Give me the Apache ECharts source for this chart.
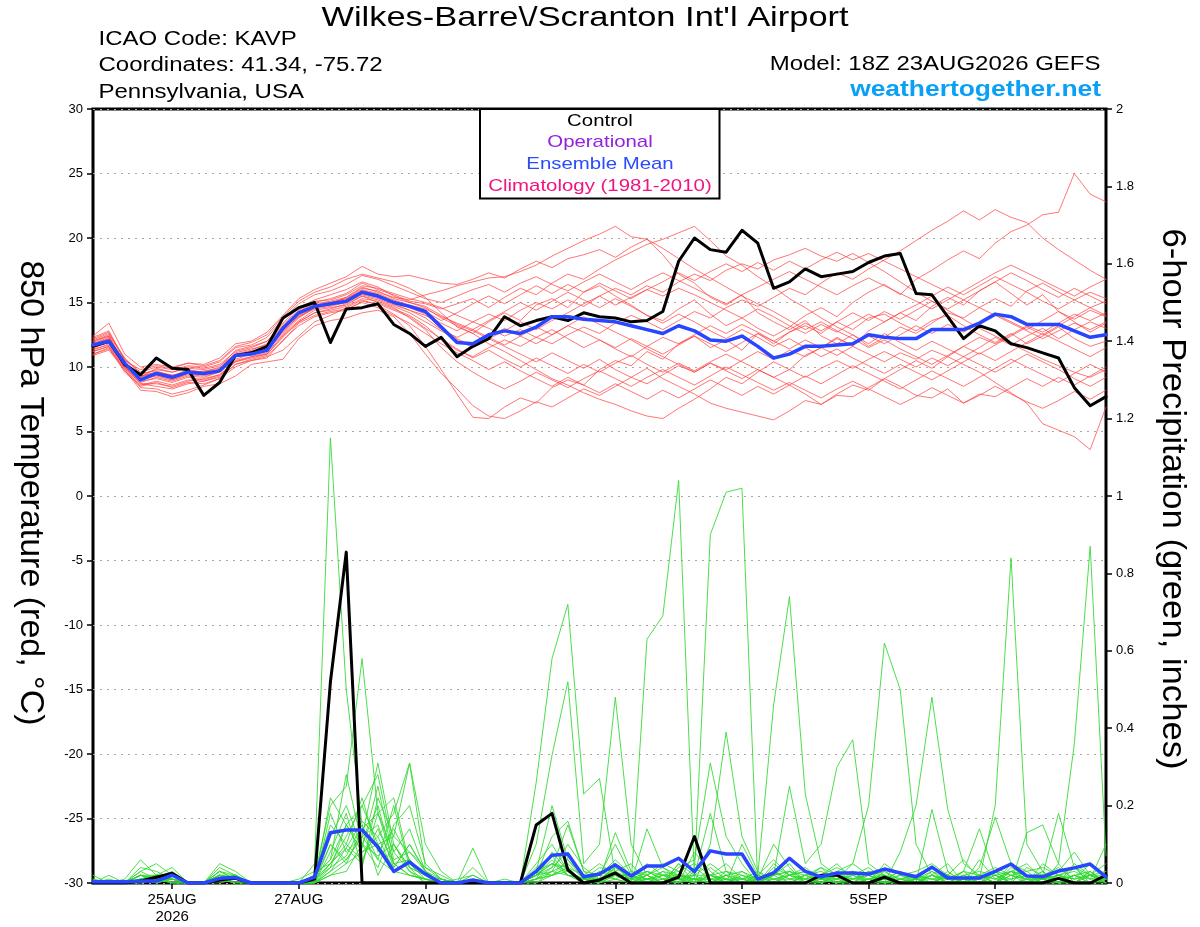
<!DOCTYPE html>
<html>
<head>
<meta charset="utf-8">
<script src="https://cdn.jsdelivr.net/npm/echarts@6.0.0/dist/echarts.min.js"></script>
<style>
html,body{margin:0;padding:0;background:#fff;}
#chart{width:1200px;height:927px;}
</style>
</head>
<body>
<div id="chart"></div>
<script>
// Forecast hours (6-hourly, 18Z 23AUG2026 run)
const forecastHours = [0,6,12,18,24,30,36,42,48,54,60,66,72,78,84,90,96,102,108,114,120,126,132,138,144,150,156,162,168,174,180,186,192,198,204,210,216,222,228,234,240,246,252,258,264,270,276,282,288,294,300,306,312,318,324,330,336,342,348,354,360,366,372,378,384];
const tickIndex = [5,13,21,33,41,49,57];
const tickText = ['25AUG\n2026','27AUG','29AUG','1SEP','3SEP','5SEP','7SEP'];

// 850 hPa temperature (deg C)
const controlTemp = [11.6,12.0,10.2,9.4,10.7,9.9,9.8,7.8,8.8,10.9,11.1,11.6,13.8,14.6,15.0,11.9,14.5,14.6,14.9,13.3,12.6,11.6,12.3,10.8,11.6,12.2,13.9,13.2,13.6,13.9,13.6,14.2,13.9,13.8,13.5,13.6,14.3,18.2,20.0,19.1,18.9,20.6,19.6,16.1,16.6,17.6,17.0,17.2,17.4,18.1,18.6,18.8,15.7,15.6,13.9,12.2,13.2,12.8,11.8,11.5,11.1,10.7,8.4,7.0,7.7];
const meanTemp = [11.7,12.0,10.3,9.0,9.5,9.2,9.6,9.5,9.7,10.9,11.0,11.3,13.0,14.2,14.7,14.9,15.1,15.8,15.5,15.0,14.7,14.3,13.1,11.9,11.8,12.5,12.8,12.6,13.1,13.9,13.9,13.7,13.6,13.5,13.2,12.9,12.6,13.2,12.8,12.1,12.0,12.4,11.6,10.7,11.0,11.6,11.6,11.7,11.8,12.5,12.3,12.2,12.2,12.9,12.9,12.9,13.4,14.1,13.9,13.3,13.3,13.3,12.8,12.3,12.5];

const tempM01 = [12.0,12.5,10.6,9.4,9.8,9.6,10.0,9.9,10.2,11.2,11.5,12.0,13.4,14.6,15.2,15.6,16.0,16.6,16.2,15.5,15.0,14.6, 13.8,13.2,12.6,13.5,14.2,13.6,14.8,15.3,14.6,15.8,16.3,15.5,14.8,14.0,13.6,14.5,15.2,14.1,13.2,13.8,13.0, 12.4,13.1,14.0,14.6,13.9,15.0,15.8,16.4,15.6,16.8,17.5,18.3,19.0,18.4,19.6,20.5,21.0,21.8,22.0,25.0,23.4,22.8];
const tempM02 = [11.5,11.9,10.0,8.8,9.2,8.9,9.3,9.2,9.6,10.6,11.0,11.3,12.6,13.8,14.6,14.9,15.4,16.2,15.8,15.4,15.2,15.6, 15.9,16.3,16.6,16.9,17.0,17.4,17.9,18.6,19.2,19.8,20.3,20.9,20.1,19.9,18.7,17.2,16.5,15.4,14.8,15.6,14.2, 13.5,12.9,13.6,12.4,11.8,12.5,11.6,12.3,13.1,12.6,13.4,14.2,13.8,14.6,15.3,14.7,15.9,16.5,15.8,15.2,14.6,15.1];
const tempM03 = [11.0,11.4,9.9,8.4,8.3,7.9,8.2,8.6,9.1,10.0,10.5,10.8,11.3,12.4,13.5,14.0,14.6,15.2,14.8,14.1,13.2,11.6, 9.8,7.9,6.1,6.0,6.9,7.6,7.2,8.4,9.0,8.6,9.8,10.5,10.1,11.2,10.6,11.8,12.4,11.5,12.1,11.3,12.6, 11.8,12.7,13.2,12.6,13.5,12.9,13.8,14.1,13.4,12.8,13.6,14.0,13.2,12.5,11.9,12.6,11.8,12.4,13.1,12.2,11.6,12.0];
const tempM04 = [12.3,12.8,10.5,9.8,10.1,9.9,10.3,10.1,10.5,11.6,11.9,12.5,13.9,15.1,15.8,16.2,16.8,17.2,16.9,16.6,16.1,15.4, 14.2,13.1,12.6,11.8,11.2,10.5,9.8,9.1,8.6,8.0,7.5,7.1,6.6,6.2,6.0,6.8,7.5,8.3,9.2,8.7,9.6, 10.4,9.8,10.9,11.5,12.3,11.6,12.8,13.5,14.2,13.6,14.7,15.4,14.8,15.9,16.6,15.7,14.8,15.6,14.3,13.5,12.7,13.4];
const tempM05 = [11.8,12.2,10.4,9.3,9.6,9.4,9.5,9.7,9.9,11.1,11.4,11.7,13.1,14.3,15.0,15.3,15.7,16.5,16.0,15.6,15.1,14.9, 14.5,14.9,15.3,14.6,15.4,16.1,15.6,16.5,17.2,16.8,17.6,18.3,18.9,19.5,19.9,20.4,20.9,19.8,18.6,17.9,17.0, 16.2,15.3,14.6,13.8,13.1,12.5,11.8,12.6,11.9,11.3,12.0,11.4,10.8,11.5,12.3,11.7,12.4,13.0,12.2,12.9,13.5,13.0];
const tempM06 = [11.2,11.6,9.7,8.6,8.9,8.6,9.0,8.9,9.3,10.4,10.7,11.0,12.3,13.5,14.2,14.5,14.9,15.5,15.2,14.7,14.2,13.5, 12.8,12.1,11.5,12.2,11.6,11.0,10.4,11.1,10.5,9.9,10.6,9.8,9.2,9.9,9.1,8.5,7.9,7.2,6.8,6.5,6.2, 5.9,6.6,7.4,7.1,7.9,8.6,8.2,9.1,9.8,10.5,9.9,10.8,11.6,12.3,11.8,12.5,13.2,12.7,13.4,14.1,13.6,14.2];
const tempM07 = [11.9,12.4,10.1,9.0,9.4,9.0,9.4,9.3,9.6,10.8,11.0,11.4,12.8,13.9,14.5,14.7,15.0,15.6,15.3,14.8,14.4,14.0, 13.4,12.8,13.5,14.1,13.6,14.4,15.0,14.5,15.2,14.7,15.5,16.1,15.6,16.3,15.8,16.6,17.2,16.7,17.5,18.0,17.6, 18.3,18.7,19.2,18.6,18.2,18.8,18.1,17.4,16.6,15.8,15.1,14.4,13.7,13.0,12.4,11.8,11.2,10.6,10.1,9.6,9.2,9.8];
const tempM08 = [11.4,11.7,10.0,8.9,9.1,8.8,9.2,9.0,9.4,10.5,10.8,11.1,12.5,13.6,14.4,14.6,14.8,15.5,15.0,14.5,14.0,13.2, 12.1,11.3,10.8,11.5,12.1,11.6,12.3,12.9,12.2,11.5,12.1,11.4,10.8,11.6,12.3,11.8,12.5,13.2,12.6,13.3,12.7, 12.0,11.4,12.1,11.5,10.9,11.6,11.0,10.4,11.1,10.6,11.3,10.8,10.2,9.6,8.8,8.0,7.2,5.6,5.1,4.6,3.6,6.9];
const tempM09 = [12.1,12.6,10.7,9.5,9.7,9.3,9.8,9.6,10.0,11.3,11.6,12.0,13.3,14.4,15.1,15.2,15.6,16.3,16.1,15.7,15.3,15.0, 14.6,14.0,13.5,13.0,12.4,12.9,12.3,11.8,12.5,13.1,12.6,13.4,14.0,13.5,12.9,13.6,14.3,13.8,14.6,15.2,14.7, 15.4,16.1,15.6,16.5,17.3,16.8,17.6,18.3,19.0,19.8,20.6,21.3,22.1,21.4,22.2,21.6,21.2,20.0,19.1,18.3,17.5,16.8];
const tempM10 = [11.6,12.0,10.3,9.2,9.6,9.3,9.7,9.6,9.8,10.9,11.2,11.6,13.0,14.1,14.8,15.0,15.3,16.0,15.7,15.2,14.8,14.5, 13.9,13.4,12.9,13.6,14.3,15.0,14.4,15.1,15.8,15.2,14.6,15.3,14.7,14.0,13.4,14.1,13.5,12.8,12.2,12.9,12.3, 11.6,12.2,11.5,10.8,11.4,10.7,10.1,9.5,10.2,9.6,9.0,9.7,10.4,11.1,10.5,11.2,11.9,12.6,12.0,11.4,10.8,11.5];
const tempM11 = [10.9,11.3,9.8,8.2,8.1,7.7,8.0,8.5,8.7,9.3,10.2,10.4,10.6,12.2,13.2,13.6,13.8,14.2,14.4,13.9,12.6,11.0, 9.5,8.3,7.0,6.2,6.0,6.6,7.3,6.9,7.6,8.3,7.8,8.5,9.2,8.7,9.4,10.1,9.6,10.3,9.8,10.5,11.2, 10.6,11.3,10.8,11.5,12.2,11.7,12.4,11.8,12.5,13.2,12.6,13.3,12.7,13.4,14.1,13.5,12.9,13.6,14.3,13.7,14.4,13.9];
const tempM12 = [12.4,13.4,11.0,10.0,10.2,10.0,10.3,10.2,10.7,11.8,12.0,12.7,14.0,15.3,16.0,16.5,17.0,17.8,17.2,17.0,17.1,16.8, 16.5,16.4,16.8,17.3,16.9,17.6,18.2,17.7,18.4,18.7,19.1,18.5,19.3,19.9,19.2,18.4,17.6,16.9,16.2,15.5,14.9, 14.3,13.6,12.9,13.5,12.8,12.2,11.5,12.1,11.4,10.8,10.2,10.9,11.6,11.0,11.7,12.4,13.1,12.5,13.2,13.9,14.6,14.0];
const tempM13 = [11.3,11.8,10.0,8.7,8.5,8.3,8.7,8.9,9.2,10.2,10.6,10.9,12.0,13.4,14.0,14.3,14.5,15.0,14.6,14.0,13.4,12.6, 11.8,11.1,10.5,9.8,10.4,9.7,9.1,8.5,9.2,8.6,8.0,8.7,8.1,7.5,8.2,7.6,8.3,9.0,8.4,7.8,8.5, 7.9,8.6,7.9,7.1,7.8,7.7,8.4,9.1,8.5,7.8,7.6,8.3,7.2,7.9,7.7,8.4,9.1,8.5,9.2,8.6,9.3,10.0];
const tempM14 = [11.8,12.3,10.4,9.2,9.9,9.6,9.9,9.8,10.1,11.0,11.3,11.8,13.2,14.2,14.9,15.1,15.4,16.1,15.9,15.3,15.0,14.7, 14.0,13.3,12.8,12.2,12.8,13.5,12.9,13.6,14.2,14.9,15.5,14.8,15.4,16.0,15.5,16.1,15.6,15.0,14.4,13.8,14.5, 13.9,13.2,12.6,13.3,12.7,13.4,14.1,13.5,14.2,14.8,15.5,16.2,15.6,16.3,17.0,16.4,15.8,15.1,14.5,15.2,15.8,15.3];
const tempM15 = [11.0,11.5,9.6,8.5,8.8,8.4,8.8,8.7,9.1,10.2,10.5,10.7,12.1,13.2,13.9,14.2,14.4,15.1,14.9,14.4,13.9,13.0, 12.2,11.4,10.7,11.3,10.6,10.0,10.7,10.1,9.5,10.2,9.6,10.3,10.9,10.2,9.6,10.3,9.7,10.4,11.0,10.4,9.8, 9.2,9.8,9.2,9.9,10.5,9.9,10.6,11.2,10.6,10.0,10.7,10.1,10.8,10.2,9.6,10.3,11.0,10.4,9.8,9.1,8.5,9.2];
const tempM16 = [11.5,12.0,10.2,9.0,9.3,9.0,9.5,9.4,9.7,10.8,11.0,11.4,12.7,13.9,14.6,14.8,15.2,15.9,15.6,15.1,14.6,14.1, 13.0,12.2,11.6,12.3,13.0,12.4,11.8,12.5,13.2,12.7,12.1,11.5,12.2,11.6,11.0,11.7,12.4,11.8,11.2,11.9,12.6, 12.0,12.7,13.4,12.8,13.5,14.2,13.6,14.3,13.7,14.4,15.1,14.5,15.2,15.9,16.6,17.3,16.7,16.0,15.4,16.1,15.5,14.9];
const tempM17 = [12.0,12.4,10.3,9.3,9.5,9.1,9.6,9.5,9.8,10.9,11.2,11.5,12.9,14.0,14.6,14.8,15.0,15.7,15.4,14.9,14.4,13.8, 12.9,12.3,12.9,12.3,11.7,12.4,13.1,12.5,13.2,13.9,13.3,12.7,12.1,11.4,10.8,10.2,9.6,10.3,9.7,9.1,9.8, 9.2,8.6,9.3,8.7,9.4,10.1,9.5,8.9,8.3,9.0,9.7,9.1,8.5,9.2,9.9,10.6,10.0,9.4,8.8,9.5,10.2,9.6];
const tempM18 = [12.2,12.7,10.6,9.6,10.0,9.8,10.1,10.0,10.4,11.5,11.7,12.3,13.7,14.9,15.6,15.9,16.4,17.1,16.8,16.3,15.8,15.3, 15.0,15.5,16.0,16.4,15.8,16.5,17.0,16.4,15.9,16.6,17.2,16.6,16.0,16.7,17.3,16.7,16.1,15.5,14.9,15.6,16.2, 16.8,17.4,16.8,16.2,15.6,16.3,16.9,16.3,15.7,15.1,14.5,15.2,15.9,16.6,17.3,17.9,17.3,16.7,16.1,15.5,16.2,16.8];
const tempM19 = [11.2,11.6,9.9,8.7,8.7,8.5,8.9,9.1,9.4,10.4,10.8,11.0,12.4,13.5,14.2,14.4,14.7,15.3,15.1,14.6,13.8,12.9, 11.5,10.4,9.6,8.9,8.3,8.9,9.6,9.0,8.4,9.1,9.7,9.1,8.5,9.2,9.8,9.2,8.6,9.3,10.0,9.4,8.8, 8.2,8.8,8.2,7.6,8.3,8.9,8.3,7.7,7.1,7.7,8.4,7.8,7.2,7.8,8.5,7.9,7.3,6.8,7.4,8.1,7.5,8.2];
const tempM20 = [11.7,12.2,10.2,9.1,9.4,9.2,9.5,9.4,9.8,10.9,11.1,11.5,12.9,14.1,14.8,15.0,15.3,15.9,15.6,15.1,14.7,14.3, 13.6,14.2,14.9,15.5,14.9,15.6,16.3,15.7,16.4,15.8,16.5,15.9,15.3,16.0,16.6,17.3,16.7,17.4,18.0,17.4,18.1, 17.5,18.2,17.6,18.3,18.9,18.3,18.8,18.2,17.6,17.0,16.4,15.8,15.2,14.6,14.0,13.4,12.8,12.2,12.8,13.4,12.9,13.5];

// 6-hour precipitation (inches)
const controlPrecip = [0,0,0,0.005,0.015,0.025,0,0,0.008,0.012,0,0,0, 0,0.01,0.52,0.855,0,0,0,0,0,0,0,0,0, 0,0,0.15,0.18,0.034,0,0.008,0.026,0,0,0,0.015,0.12, 0,0,0,0,0,0,0,0.02,0.02,0,0,0.015,0, 0,0,0,0,0,0,0,0,0,0.012,0,0,0.02];
const meanPrecip = [0.003,0.003,0.003,0.005,0.005,0.02,0,0,0.012,0.014,0,0,0, 0,0.015,0.13,0.137,0.137,0.093,0.03,0.054,0.023,0,0,0.008,0, 0,0,0.03,0.072,0.075,0.016,0.023,0.047,0.018,0.044,0.044,0.064,0.029, 0.083,0.075,0.075,0.01,0.026,0.064,0.03,0.016,0.026,0.026,0.023,0.036,0.026, 0.016,0.041,0.013,0.013,0.013,0.03,0.049,0.018,0.016,0.031,0.039,0.049,0.016];

const precipM01 = [0,0.02,0,0.03,0.05,0.02,0,0,0.03,0.02,0,0,0, 0,0.05,1.15,0.5,0.15,0.02,0.1,0.04,0,0,0,0,0, 0,0,0.02,0.05,0.03,0,0.02,0.1,0.02,0,0,0.05,0, 0.02,0,0,0,0,0,0.02,0.04,0,0,0,0.03,0, 0,0,0,0.02,0,0,0.05,0.03,0,0,0.02,0,0];
const precipM02 = [0,0,0.01,0.06,0.02,0.04,0,0,0.05,0.03,0,0,0, 0,0.02,0.2,0.25,0.58,0.18,0.05,0.02,0.01,0,0,0.02,0, 0,0,0,0.02,0.04,0,0,0.05,0,0.02,0,0,0.01, 0,0.02,0,0,0.03,0,0,0,0.02,0,0,0,0.01, 0,0.02,0,0,0,0.03,0,0,0,0.02,0,0,0.01];
const precipM03 = [0.02,0,0,0.02,0.01,0.03,0,0,0.02,0.01,0,0,0, 0,0.01,0.1,0.06,0.12,0.31,0.1,0.04,0.02,0,0,0,0, 0,0,0.26,0.58,0.72,0.23,0.27,0.02,0,0.63,0.69,1.04,0.01, 0,0.03,0.01,0,0.02,0,0,0.02,0,0,0.01,0,0, 0,0,0.02,0,0,0,0,0.04,0.02,0,0,0.03,0];
const precipM04 = [0,0.01,0,0.04,0.03,0.01,0,0,0.04,0.02,0,0,0, 0,0,0.22,0.15,0.08,0.1,0.12,0.31,0.04,0.01,0,0,0, 0,0,0.1,0.33,0.52,0.05,0.1,0.48,0.1,0.02,0,0.04,0.06, 0.31,0.12,0.05,0,0.02,0.05,0,0,0.02,0,0.03,0,0, 0.01,0,0,0,0.02,0,0.03,0.02,0,0,0,0.02,0];
const precipM05 = [0,0,0,0.01,0.02,0.02,0,0,0.01,0,0,0,0, 0.01,0.03,0.05,0.12,0.2,0.28,0.08,0.14,0.03,0,0,0.09,0, 0,0,0.04,0.07,0.02,0.01,0,0.03,0.05,0,0.01,0,0.03, 0.9,1.01,1.02,0,0.05,0.02,0,0.01,0,0.03,0,0,0.02, 0,0.03,0,0,0,0.02,0,0,0.05,0.02,0,0,0.01];
const precipM06 = [0,0,0,0,0.01,0.01,0,0,0.02,0.01,0,0,0, 0,0.02,0.15,0.1,0.06,0.14,0.05,0.06,0.02,0.01,0,0,0, 0.01,0,0.02,0.12,0.16,0.03,0,0.04,0.01,0.05,0.02,0,0.08, 0.03,0,0.1,0.02,0.46,0.74,0.23,0.05,0.02,0,0.03,0.01,0, 0.02,0,0,0.03,0,0,0.02,0,0.03,0,0.05,0.02,0];
const precipM07 = [0,0,0,0.02,0,0.01,0,0,0.03,0.01,0,0,0, 0,0,0.08,0.18,0.04,0.22,0.12,0.08,0.03,0,0,0,0, 0,0,0.05,0.1,0.03,0,0.03,0.01,0,0.02,0.04,0.02,0, 0.02,0,0.03,0,0.04,0.02,0.03,0,0.01,0.05,0.2,0.62,0.5, 0.1,0.02,0,0.01,0,0.03,0,0.01,0,0.02,0,0.03,0];
const precipM08 = [0,0,0,0.01,0,0.02,0,0,0.01,0.02,0,0,0, 0,0.01,0.04,0.07,0.15,0.06,0.03,0.02,0.01,0,0,0,0, 0,0,0.01,0.04,0.08,0.02,0.05,0.02,0,0.01,0,0.05,0.02, 0,0.01,0,0.02,0,0.03,0,0.02,0.04,0.02,0,0.01,0.03, 0,0.02,0.05,0,0.01,0.2,0.84,0.1,0.03,0,0.02,0,0.01];
const precipM09 = [0.01,0,0,0.02,0.01,0,0,0,0.02,0.01,0,0,0, 0,0,0.03,0.09,0.05,0.18,0.08,0.03,0,0,0,0,0, 0,0,0.03,0.02,0.06,0.02,0,0.02,0.01,0,0.03,0,0.02, 0.05,0.02,0,0,0.01,0,0.02,0,0.03,0,0.01,0.02,0, 0.01,0,0.03,0,0.02,0,0.04,0.02,0,0.05,0.36,0.87,0.07];
const precipM10 = [0,0,0,0.01,0.02,0,0,0,0,0.01,0,0,0, 0,0.02,0.06,0.28,0.1,0.04,0.15,0.2,0.05,0.01,0,0,0, 0,0,0,0.03,0.1,0.04,0.01,0.13,0.03,0.02,0.05,0.03,0, 0.1,0.39,0.12,0.03,0,0.02,0.01,0,0.03,0.05,0.02,0,0.08, 0.2,0.48,0.19,0.05,0.02,0,0.03,0,0.01,0,0.02,0.03,0];
const precipM11 = [0,0,0,0,0.01,0.02,0,0,0.01,0,0,0,0, 0,0,0.04,0.15,0.2,0.1,0.04,0.1,0.03,0,0,0,0, 0,0,0.02,0.04,0.15,0.03,0.02,0.05,0,0.01,0.02,0.03,0.05, 0.02,0.05,0.01,0,0.02,0.25,0.05,0.1,0.3,0.37,0.05,0.02,0, 0.01,0,0.02,0,0.04,0.17,0.05,0,0.02,0.18,0.04,0,0.02];
const precipM12 = [0,0,0,0.02,0.01,0.01,0,0,0.02,0.02,0,0,0, 0,0.01,0.12,0.2,0.09,0.25,0.06,0.08,0.04,0.02,0,0,0, 0,0,0.03,0.2,0.06,0.01,0.04,0.03,0,0.14,0.04,0.01,0.02, 0.18,0.03,0.02,0,0.03,0.01,0.02,0.03,0.01,0,0.02,0,0.01, 0,0.02,0.01,0.03,0.14,0.02,0,0.13,0.15,0.05,0,0.02,0.05];
const precipM13 = [0,0,0,0.01,0.01,0,0,0,0.03,0.01,0,0,0, 0,0,0.02,0.05,0.08,0.12,0.18,0.31,0.1,0.03,0,0,0, 0,0,0.02,0.05,0.02,0,0.01,0.02,0.01,0.03,0.01,0,0.04, 0.01,0.02,0.03,0.01,0.1,0.04,0,0.02,0.05,0.01,0.03,0.02,0, 0,0.19,0.03,0,0.02,0.04,0.02,0.01,0.03,0,0.04,0.01,0.1];
const precipM14 = [0,0,0,0,0.02,0.01,0,0,0.01,0,0,0,0, 0,0.01,0.05,0.1,0.22,0.08,0.14,0.06,0.02,0,0.01,0.02,0, 0,0,0.01,0.03,0.05,0.01,0.02,0.06,0.02,0,0.02,0.01,0, 0.04,0.01,0,0.02,0.06,0.02,0.03,0.01,0.02,0.03,0,0.05,0.02, 0.03,0.05,0.02,0,0.06,0.01,0.03,0.05,0.01,0.03,0.08,0.02,0.03];
const precipM15 = [0,0,0,0.01,0,0.01,0,0,0.02,0.01,0,0,0, 0,0,0.1,0.05,0.14,0.18,0.22,0.05,0.01,0.01,0,0.04,0, 0,0,0.01,0.02,0.04,0.02,0.01,0.03,0.01,0.02,0,0.02,0.01, 0.02,0.01,0.01,0.03,0.01,0.02,0.04,0.01,0,0.02,0.04,0.01,0.03, 0.01,0.04,0.02,0.06,0.01,0,0.02,0.03,0.04,0.02,0.01,0.05,0.02];
const precipM16 = [0,0,0,0.03,0.01,0.02,0,0,0.02,0.01,0,0,0, 0,0,0.18,0.08,0.12,0.06,0.2,0.04,0.02,0,0,0,0, 0,0,0.01,0.08,0.03,0.01,0,0.01,0.03,0.01,0.03,0.02,0.01, 0.01,0,0.02,0.01,0.03,0.01,0.01,0.04,0.02,0.01,0.02,0.03,0.01, 0.02,0.01,0,0.02,0.03,0.02,0.01,0.02,0.02,0.04,0.01,0.02,0.01];
const precipM17 = [0,0,0,0.02,0.02,0,0,0,0.01,0.02,0,0,0, 0,0.02,0.06,0.15,0.1,0.2,0.05,0.02,0.01,0,0,0,0, 0,0,0.02,0.06,0.02,0.01,0.02,0.01,0,0.03,0.02,0.02,0.01, 0,0.02,0.01,0.01,0.02,0.03,0.02,0.01,0.01,0.02,0.01,0.01,0.02, 0.01,0.03,0.01,0.02,0.01,0.02,0.03,0.01,0.01,0.02,0.01,0.02,0.02];
const precipM18 = [0,0,0,0.01,0.01,0.01,0,0,0.01,0.01,0,0,0, 0,0,0.02,0.03,0.1,0.07,0.1,0.03,0.01,0,0,0,0, 0,0,0.01,0.02,0.03,0.01,0,0.02,0.01,0.01,0.02,0.01,0.01, 0.01,0.01,0,0.01,0.01,0.02,0.01,0.02,0,0.01,0.01,0.02,0.01, 0.01,0.01,0.02,0.01,0.01,0.03,0.02,0.01,0.01,0.01,0.02,0.01,0.01];
const precipM19 = [0.01,0,0,0.01,0.01,0.01,0,0,0.02,0.01,0,0,0, 0,0,0.05,0.09,0.16,0.12,0.03,0.06,0.02,0,0,0,0, 0,0,0.02,0.03,0.02,0.01,0.01,0.04,0.02,0.01,0.01,0.02,0.02, 0.02,0.01,0.01,0.02,0.01,0.01,0,0.01,0.02,0.01,0.02,0,0.01, 0.02,0.01,0.01,0.01,0.02,0.01,0.01,0.02,0.01,0.02,0.03,0.01,0.02];
const precipM20 = [0,0,0,0.02,0.01,0,0,0,0.01,0.01,0,0,0, 0,0,0.03,0.06,0.12,0.15,0.04,0.1,0.03,0.01,0,0,0, 0,0,0.03,0.05,0.04,0,0.03,0.02,0.02,0.03,0.01,0.01,0, 0.02,0.03,0,0.01,0.02,0.03,0.01,0.02,0.01,0.03,0.02,0.01,0, 0.01,0.02,0.01,0.03,0.02,0.01,0.03,0.02,0.01,0.02,0.04,0.02,0.01];

const tempMembers = [tempM01,tempM02,tempM03,tempM04,tempM05,tempM06,tempM07,tempM08,tempM09,tempM10,tempM11,tempM12,tempM13,tempM14,tempM15,tempM16,tempM17,tempM18,tempM19,tempM20];
const precipMembers = [precipM01,precipM02,precipM03,precipM04,precipM05,precipM06,precipM07,precipM08,precipM09,precipM10,precipM11,precipM12,precipM13,precipM14,precipM15,precipM16,precipM17,precipM18,precipM19,precipM20];

const FONT = '"Liberation Sans", Arial, Helvetica, sans-serif';
const RED = '#ff4040', GREEN = '#2ed82e', BLUE = '#2846ff';

function line(name, data, yIdx, color, width, z, opacity) {
  return {
    name: name, type: 'line', data: data, yAxisIndex: yIdx,
    symbol: 'none', silent: true, z: z, animation: false,
    lineStyle: {color: color, width: width, opacity: opacity == null ? 1 : opacity, cap: 'round', join: 'round'}
  };
}

const series = [];
precipMembers.forEach((d, k) => series.push(line('precip member ' + (k+1), d, 1, GREEN, 0.9, 2, 0.95)));
tempMembers.forEach((d, k) => series.push(line('temp member ' + (k+1), d, 0, RED, 0.9, 2, 0.8)));
series.push(line('Control precip', controlPrecip, 1, '#000', 3, 3));
series.push(line('Control temp', controlTemp, 0, '#000', 3, 3));
series.push(line('Ensemble Mean precip', meanPrecip, 1, BLUE, 3.5, 4));
series.push(line('Ensemble Mean temp', meanTemp, 0, BLUE, 3.5, 4));

function txt(text, x, y, size, color, align, sx, opts) {
  opts = opts || {};
  return {
    type: 'text', x: x, y: y, scaleX: sx || 1, rotation: opts.rotation || 0, z: 100,
    style: {
      text: text, fill: color, fontSize: size, fontFamily: FONT, fontWeight: opts.bold ? 'bold' : 'normal',
      textAlign: align, textVerticalAlign: 'middle', align: align, verticalAlign: 'middle'
    }
  };
}

const chart = echarts.init(document.getElementById('chart'), null, {renderer: 'canvas'});
chart.setOption({
  animation: false,
  backgroundColor: '#fff',
  grid: {left: 93, right: 94, top: 109, bottom: 44, show: true, borderColor: '#000', borderWidth: 3, backgroundColor: 'transparent'},
  xAxis: {
    type: 'category', data: forecastHours, boundaryGap: false, position: 'bottom',
    axisLine: {show: false, onZero: false},
    axisTick: {show: true, inside: false, length: 6, lineStyle: {color: '#000', width: 1.5},
      interval: function (i) { return tickIndex.indexOf(i) >= 0; }},
    axisLabel: {
      interval: function (i) { return tickIndex.indexOf(i) >= 0; },
      formatter: function (v, i) { const k = tickIndex.indexOf(i); return k >= 0 ? tickText[k] : ''; },
      color: '#000', fontSize: 15, fontFamily: FONT, margin: 8, lineHeight: 17
    },
    splitLine: {show: false}
  },
  yAxis: [
    {
      type: 'value', min: -30, max: 30, interval: 5, position: 'left',
      axisLine: {show: false},
      axisTick: {show: true, length: 6, lineStyle: {color: '#000', width: 1.5}},
      axisLabel: {color: '#000', fontSize: 13, fontFamily: FONT, margin: 10},
      splitLine: {show: true, lineStyle: {color: '#a8a8a8', width: 1.2, type: [2, 5]}}
    },
    {
      type: 'value', min: 0, max: 2, interval: 0.2, position: 'right',
      axisLine: {show: false},
      axisTick: {show: true, length: 6, lineStyle: {color: '#000', width: 1.5}},
      axisLabel: {color: '#000', fontSize: 13, fontFamily: FONT, margin: 10},
      splitLine: {show: false}
    }
  ],
  series: series,
  graphic: [
    txt("Wilkes-Barre\\/Scranton Int'l Airport", 585, 18, 28, '#000', 'center', 1.23),
    txt('ICAO Code: KAVP', 98.5, 39.5, 20, '#000', 'left', 1.2),
    txt('Coordinates: 41.34, -75.72', 98.5, 65.5, 20, '#000', 'left', 1.2),
    txt('Pennsylvania, USA', 98.5, 92, 20, '#000', 'left', 1.2),
    txt('Model: 18Z 23AUG2026 GEFS', 1100.5, 64, 20, '#000', 'right', 1.2),
    txt('weathertogether.net', 1101, 90, 22, '#0aa0f5', 'right', 1.2, {bold: true}),
    {
      type: 'rect', z: 90,
      shape: {x: 480, y: 109, width: 239.5, height: 89.5},
      style: {fill: '#fff', stroke: '#000', lineWidth: 2}
    },
    txt('Control', 600, 121.5, 17, '#000', 'center', 1.2),
    txt('Operational', 600, 142, 17, '#9420e0', 'center', 1.2),
    txt('Ensemble Mean', 600, 164, 17, '#2b4bff', 'center', 1.2),
    txt('Climatology (1981-2010)', 600, 186, 17, '#f0147f', 'center', 1.2),
    txt('850 hPa Temperature (red, °C)', 30, 493, 33, '#000', 'center', 1.03, {rotation: -Math.PI / 2}),
    txt('6-hour Precipitation (green, inches)', 1172, 499, 33, '#000', 'center', 1.05, {rotation: -Math.PI / 2})
  ]
});
</script>
</body>
</html>
